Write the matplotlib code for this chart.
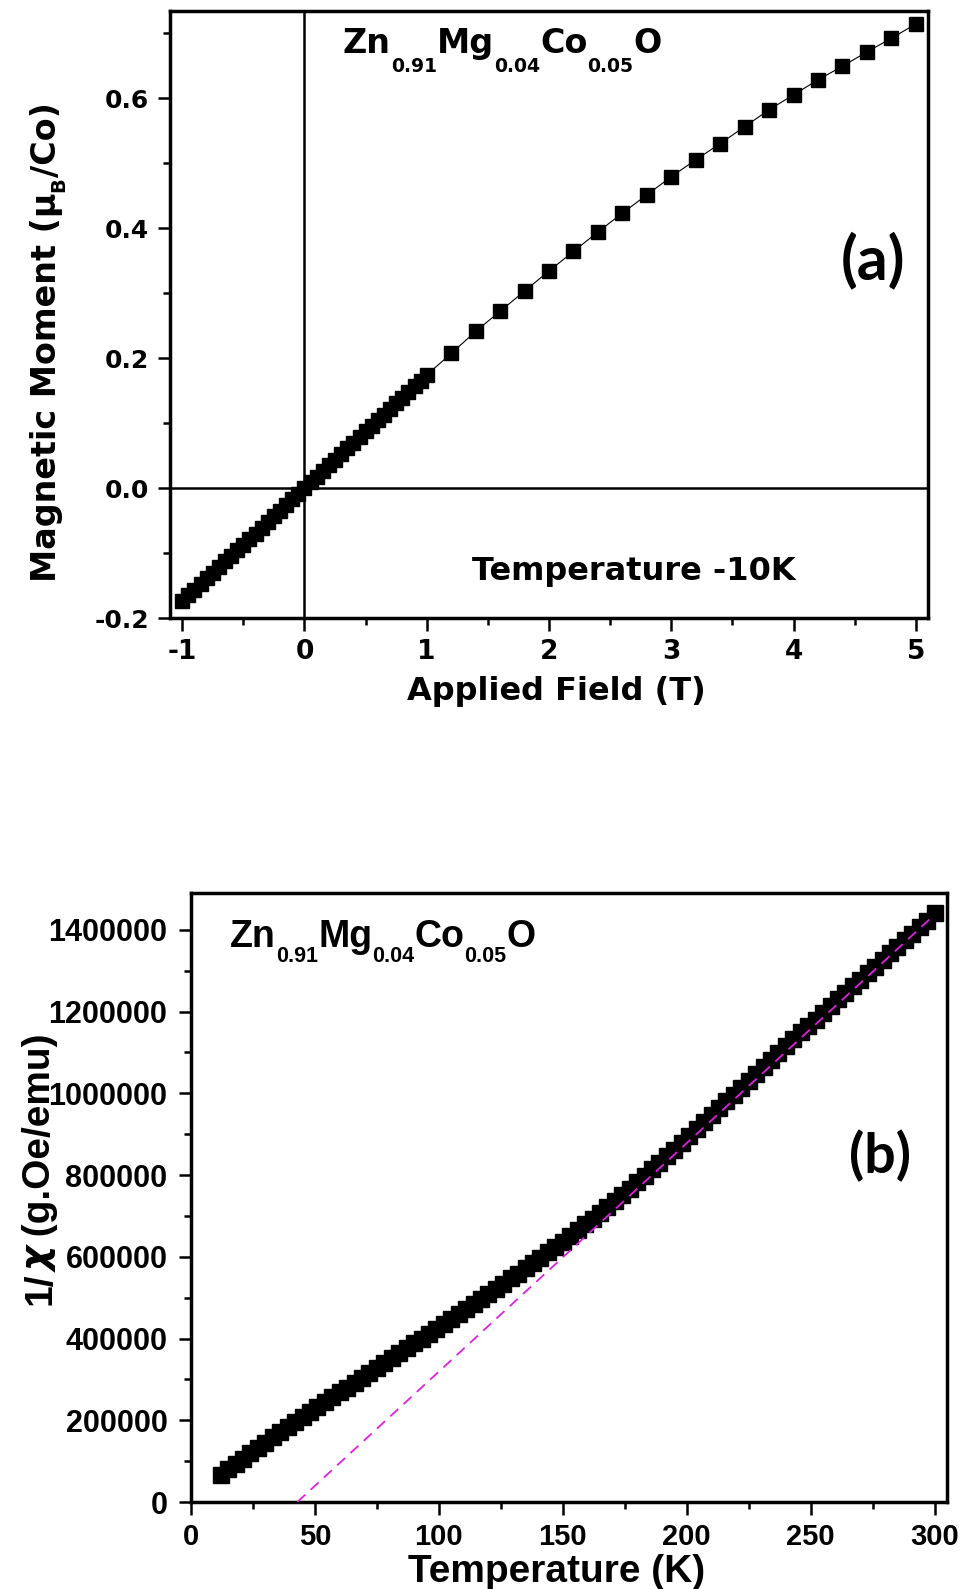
import matplotlib
matplotlib.use("Agg")
import matplotlib.pyplot as plt
import numpy as np
from matplotlib.ticker import MultipleLocator, StrMethodFormatter

# M-H loop at 10 K
field = [-1.0, -0.95, -0.9, -0.85, -0.8, -0.75, -0.7, -0.65, -0.6, -0.55,
         -0.5, -0.45, -0.4, -0.35, -0.3, -0.25, -0.2, -0.15, -0.1, -0.05,
         0.0, 0.05, 0.1, 0.15, 0.2, 0.25, 0.3, 0.35, 0.4, 0.45,
         0.5, 0.55, 0.6, 0.65, 0.7, 0.75, 0.8, 0.85, 0.9, 0.95, 1.0,
         1.2, 1.4, 1.6, 1.8, 2.0, 2.2, 2.4, 2.6, 2.8, 3.0,
         3.2, 3.4, 3.6, 3.8, 4.0, 4.2, 4.4, 4.6, 4.8, 5.0]
moment = [-0.174, -0.165, -0.157, -0.148, -0.139, -0.131, -0.122, -0.113, -0.104, -0.096,
          -0.087, -0.078, -0.070, -0.061, -0.052, -0.043, -0.035, -0.026, -0.017, -0.009,
          0.0, 0.009, 0.017, 0.026, 0.035, 0.043, 0.052, 0.061, 0.070, 0.078,
          0.087, 0.096, 0.104, 0.113, 0.122, 0.131, 0.139, 0.148, 0.157, 0.165, 0.174,
          0.207, 0.241, 0.272, 0.303, 0.334, 0.364, 0.394, 0.423, 0.451, 0.479,
          0.505, 0.530, 0.556, 0.582, 0.605, 0.628, 0.649, 0.671, 0.692, 0.714]

# inverse susceptibility vs temperature
temp = [12, 15, 18, 21, 24, 27, 30, 33, 36, 39,
        42, 45, 48, 51, 54, 57, 60, 63, 66, 69,
        72, 75, 78, 81, 84, 87, 90, 93, 96, 99,
        102, 105, 108, 111, 114, 117, 120, 123, 126, 129,
        132, 135, 138, 141, 144, 147, 150, 153, 156, 159,
        162, 165, 168, 171, 174, 177, 180, 183, 186, 189,
        192, 195, 198, 201, 204, 207, 210, 213, 216, 219,
        222, 225, 228, 231, 234, 237, 240, 243, 246, 249,
        252, 255, 258, 261, 264, 267, 270, 273, 276, 279,
        282, 285, 288, 291, 294, 297, 300]
inv_chi_k = [67, 80, 93, 106, 119, 132, 145, 158, 171, 184,
             196, 208, 220, 232, 244, 256, 268, 280, 292, 304,
             316, 328, 340, 352, 364, 376, 388, 400, 412, 424,
             436, 448, 460, 473, 485, 497, 510, 522, 534, 547,
             559, 572, 585, 598, 611, 624, 637, 651, 665, 679,
             693, 707, 722, 737, 752, 767, 782, 798, 814, 830,
             846, 862, 879, 896, 912, 929, 946, 963, 980, 997,
             1014, 1031, 1048, 1065, 1082, 1099, 1116, 1133, 1149, 1164,
             1180, 1197, 1214, 1230, 1246, 1262, 1278, 1294, 1310, 1326,
             1342, 1358, 1374, 1390, 1406, 1422, 1440]
inv_chi = np.array(inv_chi_k) * 1000.0

# Curie-Weiss fit line
fit_temp = [42.9, 300.0]
fit_inv_chi = [0.0, 1437000.0]

formula = [("Zn", False), ("0.91", True), ("Mg", False), ("0.04", True),
           ("Co", False), ("0.05", True), ("O", False)]

plt.rcParams["font.weight"] = "bold"
plt.rcParams["font.family"] = "DejaVu Sans"
plt.rcParams["axes.unicode_minus"] = False


def piece_kw(piece, size, subsize, family):
    text, sub = piece[0], piece[1]
    extra = piece[2] if len(piece) > 2 else {}
    kw = dict(fontsize=subsize if sub else size, family=family,
              fontweight="bold", va="baseline", ha="left")
    kw.update(extra)
    return text, sub, kw


def chain_text(ax, x, y, pieces, size, subsize, drop, family):
    prev = None
    for piece in pieces:
        text, sub, kw = piece_kw(piece, size, subsize, family)
        if prev is None:
            prev = ax.text(x, y, text, transform=ax.transAxes, **kw)
        else:
            prev = ax.annotate(text, xy=(1, y), xycoords=(prev, "axes fraction"),
                               xytext=(0, -drop if sub else 0),
                               textcoords="offset points", **kw)


def chain_text_vertical(ax, x, y, pieces, size, subsize, drop, family):
    prev = None
    for piece in pieces:
        text, sub, kw = piece_kw(piece, size, subsize, family)
        kw.update(rotation=90, rotation_mode="anchor")
        if prev is None:
            prev = ax.text(x, y, text, transform=ax.transAxes, **kw)
        else:
            prev = ax.annotate(text, xy=(x, 1), xycoords=("axes fraction", prev),
                               xytext=(drop if sub else 0, 0),
                               textcoords="offset points", **kw)


def style_axes(ax, family, xsize, ysize, xpad, ypad):
    for sp in ax.spines.values():
        sp.set_linewidth(2.5)
    ax.tick_params(which="both", direction="out", top=False, right=False,
                   width=1.8, labelfontfamily=family)
    ax.tick_params(which="major", length=9)
    ax.tick_params(which="minor", length=5)
    ax.tick_params(axis="x", labelsize=xsize, pad=xpad)
    ax.tick_params(axis="y", labelsize=ysize, pad=ypad)


fig = plt.figure(figsize=(9.64, 15.89), dpi=100)
ax1 = fig.add_axes([170 / 964, 1 - 618 / 1589, 758 / 964, 607 / 1589])
ax2 = fig.add_axes([191 / 964, 1 - 1502 / 1589, 756 / 964, 609 / 1589])

# ---- (a) magnetisation ----
ax1.axhline(0, color="k", lw=1.8, zorder=1)
ax1.axvline(0, color="k", lw=1.8, zorder=1)
ax1.plot(field, moment, "s-", color="k", ms=10, lw=0.8, zorder=3)
ax1.set_xlim(-1.1, 5.1)
ax1.set_ylim(-0.2, 0.734)
ax1.xaxis.set_major_locator(MultipleLocator(1))
ax1.xaxis.set_minor_locator(MultipleLocator(0.5))
ax1.yaxis.set_major_locator(MultipleLocator(0.2))
ax1.yaxis.set_minor_locator(MultipleLocator(0.1))
ax1.xaxis.set_major_formatter(StrMethodFormatter("{x:.0f}"))
ax1.yaxis.set_major_formatter(StrMethodFormatter("{x:.1f}"))
style_axes(ax1, "DejaVu Sans", 19, 18, 6, 6)

ax1.text(0.51, -0.135, "Applied Field (T)", transform=ax1.transAxes,
         ha="center", va="baseline", fontsize=23, family="DejaVu Sans")
chain_text_vertical(ax1, -0.15, 0.06,
                    [("Magnetic Moment (\u03bc", False), ("B", True), ("/Co)", False)],
                    24, 14, 6, "DejaVu Sans")
chain_text(ax1, 0.228, 0.931, formula, 24, 13.5, 13.5, "DejaVu Sans")
ax1.text(0.398, 0.062, "Temperature -10K", transform=ax1.transAxes,
         va="baseline", ha="left", fontsize=23, family="DejaVu Sans")
ax1.text(0.928, 0.59, "(a)", transform=ax1.transAxes, ha="center", va="center",
         fontsize=44, family="Lato", fontweight="bold")

# ---- (b) inverse susceptibility ----
ax2.plot(temp, inv_chi, "s-", color="k", ms=11.5, lw=1, zorder=2)
ax2.plot(fit_temp, fit_inv_chi, color="#e020e0", lw=1.3,
         linestyle=(0, (6, 4)), zorder=3)
ax2.set_xlim(0, 305)
ax2.set_ylim(0, 1490000)
ax2.xaxis.set_major_locator(MultipleLocator(50))
ax2.xaxis.set_minor_locator(MultipleLocator(25))
ax2.yaxis.set_major_locator(MultipleLocator(200000))
ax2.yaxis.set_minor_locator(MultipleLocator(100000))
ax2.xaxis.set_major_formatter(StrMethodFormatter("{x:.0f}"))
ax2.yaxis.set_major_formatter(StrMethodFormatter("{x:.0f}"))
style_axes(ax2, "Liberation Sans", 21, 22, 6, 8)

ax2.text(0.484, -0.131, "Temperature (K)", transform=ax2.transAxes,
         ha="center", va="baseline", fontsize=28, family="Liberation Sans")
chain_text_vertical(ax2, -0.1865, 0.3235,
                    [("1/", False),
                     ("\u03c7", False, {"family": "DejaVu Sans", "style": "italic"}),
                     (" (g.Oe/emu)", False)],
                    28, 16, 0, "Liberation Sans")
chain_text(ax2, 0.052, 0.911, formula, 27, 15.5, 11, "Liberation Sans")
ax2.text(0.912, 0.568, "(b)", transform=ax2.transAxes, ha="center", va="center",
         fontsize=40, family="Lato", fontweight="bold")

fig.savefig("out.png", dpi=100, facecolor="white")
